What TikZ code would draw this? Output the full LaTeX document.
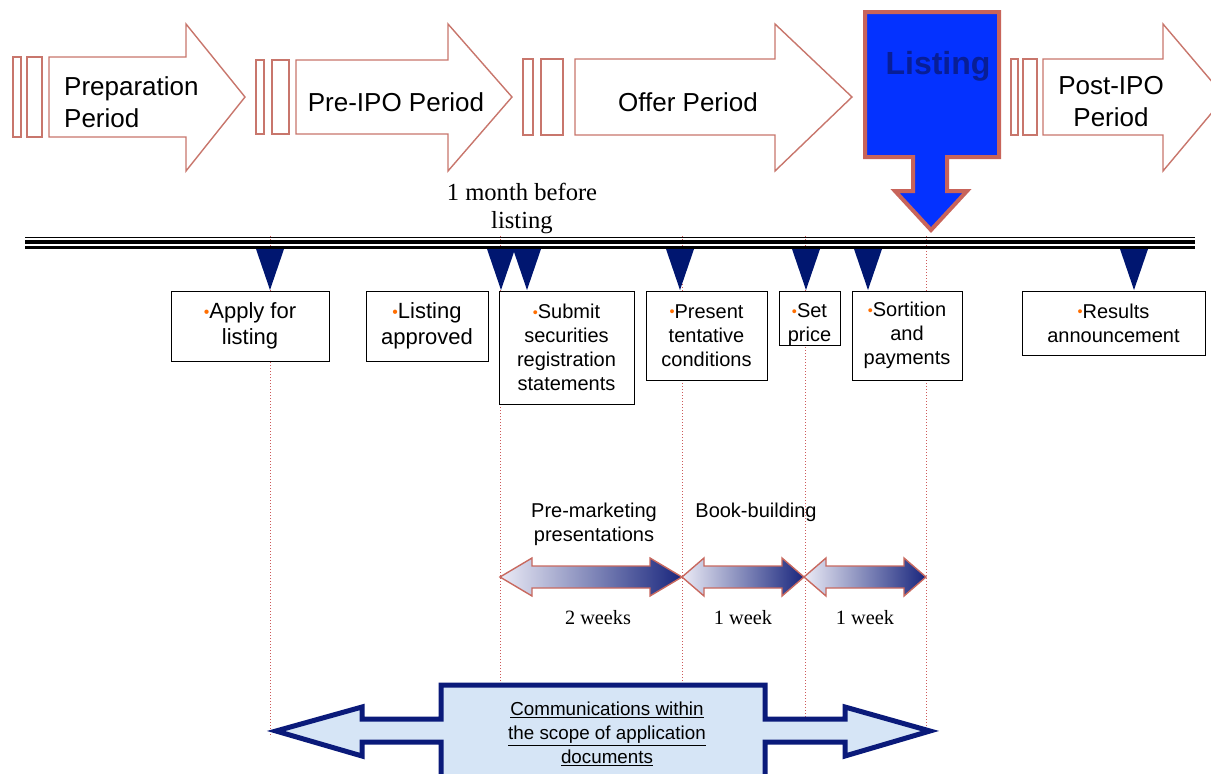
\documentclass[tikz,border=0pt]{standalone}
\usepackage{fontspec}
\setmainfont{Liberation Sans}
\newfontfamily\timesfont{Liberation Serif}
\definecolor{phaseline}{RGB}{200,118,108}
\definecolor{listfill}{RGB}{4,50,255}
\definecolor{listline}{RGB}{200,100,90}
\definecolor{listtext}{RGB}{8,30,150}
\definecolor{navymark}{RGB}{0,22,112}
\definecolor{guidered}{RGB}{205,90,90}
\definecolor{bulletorange}{RGB}{255,110,0}
\definecolor{spanline}{RGB}{200,105,95}
\definecolor{spanlight}{RGB}{235,235,246}
\definecolor{spandark}{RGB}{25,38,125}
\definecolor{commline}{RGB}{10,26,122}
\definecolor{commfill}{RGB}{214,229,246}
\newcommand{\dotmark}{\textcolor{bulletorange}{\raisebox{1.6pt}{\scalebox{0.72}{\textbullet}}}}

\begin{document}
\begin{tikzpicture}[x=1pt,y=-1pt]
	\tikzset{phase/.style={draw=phaseline,line width=1.4pt,fill=white},
		marker/.style={fill=navymark},
		event/.style={draw,line width=1pt,fill=white,align=center,inner sep=0pt,font=\fontsize{20}{24}\selectfont},
		guide/.style={draw=guidered,line width=1pt,dotted},
		span/.style={draw=spanline,line width=1.4pt,left color=spanlight,right color=spandark},
		phasetext/.style={font=\fontsize{26}{32}\selectfont,align=center,inner sep=0pt},
		spantext/.style={font=\fontsize{20}{24}\selectfont,align=center,inner sep=0pt},
		weektext/.style={font=\timesfont\fontsize{20.3}{24}\selectfont,inner sep=0pt}}
	\useasboundingbox (0,0) rectangle (1211,774);
	\clip (0,0) rectangle (1211,774);
	% phase arrows along the top
	\foreach \xa/\xb/\xc/\xd/\xe/\xf/\xg/\ya/\yb in {13/21/27/42/49/186/245/57/137, 256/264/272/289/296/448/512/60/134, 523/533/541/563/575/775/852/59/135, 1011/1018/1023/1037/1043/1163/1225/59/135}{
		\draw[phase] (\xa,\ya) rectangle (\xb,\yb);
		\draw[phase] (\xc,\ya) rectangle (\xd,\yb);
		\draw[phase] (\xe,\ya) -- (\xf,\ya) -- (\xf,24) -- (\xg,97) -- (\xf,171) -- (\xf,\yb) -- (\xe,\yb) -- cycle;
	}
	\node[phasetext,anchor=west,align=left] (prep) at (64,102) {Preparation\\Period};
	\node[phasetext] (preipo) at (396,102) {Pre-IPO Period};
	\node[phasetext] (offer) at (688,102) {Offer Period};
	\node[phasetext] (postipo) at (1111,102) {Post-IPO\\Period};
	% listing block
	\draw[line width=4pt,draw=listline,fill=listfill] (865,12) -- (999,12) -- (999,157) -- (947,157) -- (947,191) -- (967,191) -- (931,230) -- (895,191) -- (913,191) -- (913,157) -- (865,157) -- cycle;
	\node[font=\bfseries\fontsize{32}{32}\selectfont,text=listtext] (listing) at (938,66) {Listing};
	% guides
	\foreach \x/\yend in {270/737, 500/685, 682/685, 805/719, 926/731}
		\draw[guide] (\x,236) -- (\x,\yend);
	% timeline
	\foreach \y/\w in {237.7/1.5, 242/3.2, 247.3/2.4}
		\draw[line width=\w pt] (25,\y) -- (1195,\y);
	\foreach \x in {270,501,527,680,806,868,1134}
		\fill[marker] (\x-14,249) -- (\x+14,249) -- (\x,290) -- cycle;
	\node[font=\timesfont\fontsize{24.6}{28}\selectfont,align=center,inner sep=0pt] (month) at (522,208) {1 month before\\listing};
	% events
	\node[event,minimum width=158,minimum height=70,font=\fontsize{22}{26}\selectfont] (apply) at (250,326) {\dotmark Apply for\\listing};
	\node[event,minimum width=122,minimum height=70,font=\fontsize{22}{26}\selectfont] (approved) at (427,326) {\dotmark Listing\\approved};
	\node[event,minimum width=135,minimum height=113] (submit) at (566.5,347.5) {\dotmark Submit\\securities\\registration\\statements};
	\node[event,minimum width=121,minimum height=89] (present) at (706.5,335.5) {\dotmark Present\\tentative\\conditions};
	\node[event,minimum width=61,minimum height=54] (setprice) at (809.5,318) {};
	\node[event,draw=none,fill=none] (setpricetext) at (809.5,325) {\dotmark Set\\price};
	\node[event,minimum width=110,minimum height=89] (sortition) at (907,335.5) {\dotmark Sortition\\and\\payments};
	\node[event,minimum width=183,minimum height=64] (results) at (1113.5,323) {\dotmark Results\\announcement};
	% spans
	\foreach \xl/\xr/\h in {500/682/32, 682/804/22, 804/926/22}
		\draw[span] (\xl,577) -- (\xl+\h,558) -- (\xl+\h,566) -- (\xr-\h,566) -- (\xr-\h,558) -- (\xr,577) -- (\xr-\h,596) -- (\xr-\h,588) -- (\xl+\h,588) -- (\xl+\h,596) -- cycle;
	\node[spantext] (premarket) at (594,524) {Pre-marketing\\presentations};
	\node[spantext] (bookbuild) at (756,512) {Book-building};
	\node[weektext] (twoweeks) at (598,618) {2 weeks};
	\node[weektext] (weekone) at (743,618) {1 week};
	\node[weektext] (weektwo) at (865,618) {1 week};
	% communications
	\draw[line width=5pt,draw=commline,fill=commfill] (441,685) -- (765,685) -- (765,719) -- (845,719) -- (845,707) -- (930,731) -- (845,756) -- (845,742) -- (765,742) -- (765,790) -- (441,790) -- (441,742) -- (362,742) -- (362,756) -- (276,731) -- (362,707) -- (362,719) -- (441,719) -- cycle;
	\node[font=\fontsize{18.8}{24}\selectfont,align=center,inner sep=0pt] (comm) at (607,734) {\underline{Communications within}\\\underline{the scope of application}\\\underline{documents}};
\end{tikzpicture}
\end{document}
